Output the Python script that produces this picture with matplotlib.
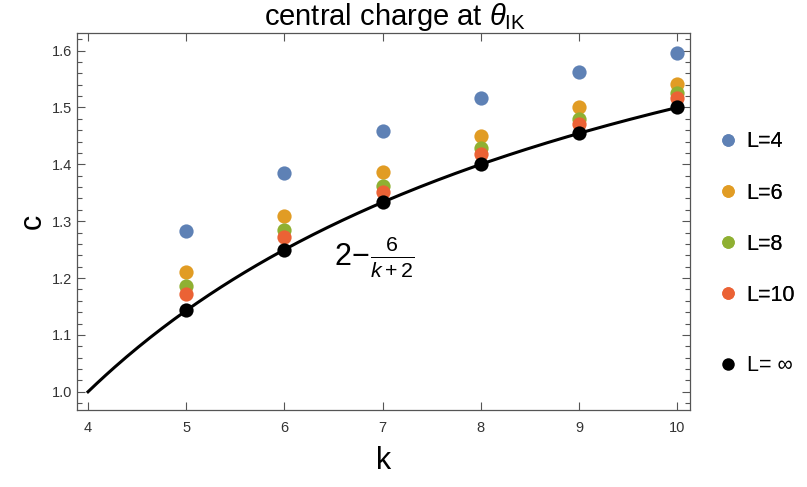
import matplotlib
matplotlib.use('Agg')
import matplotlib.pyplot as plt
import numpy as np
from matplotlib.ticker import MultipleLocator
from matplotlib.lines import Line2D

#data
kValues = [5, 6, 7, 8, 9, 10]
cL4 = [1.283, 1.385, 1.458, 1.516, 1.562, 1.596]
cL6 = [1.211, 1.310, 1.386, 1.450, 1.500, 1.542]
cL8 = [1.186, 1.284, 1.362, 1.428, 1.480, 1.525]
cL10 = [1.172, 1.273, 1.352, 1.418, 1.471, 1.516]
cLinf = [1.143, 1.250, 1.333, 1.400, 1.455, 1.500]
seriesLabels = ['L=4', 'L=6', 'L=8', 'L=10', 'L= \u221e']
seriesColors = ['#5E81B5', '#E19C24', '#8FB032', '#EB6235', '#000000']

plt.rcParams['font.family'] = ['Liberation Sans', 'DejaVu Sans']
plt.rcParams['mathtext.fontset'] = 'custom'
plt.rcParams['mathtext.rm'] = 'Liberation Sans'
plt.rcParams['mathtext.it'] = 'Liberation Sans:italic'

fig = plt.figure(figsize=(8.07, 4.87), dpi=100)
ax = fig.add_axes([77/807, 1 - 410/487, (690-77)/807, (410-33)/487])

#analytic curve 2 - 6/(k+2)
kLine = np.linspace(4, 10, 200)
ax.plot(kLine, 2 - 6/(kLine + 2), color='black', lw=2.2, zorder=2)

allSeries = [cL4, cL6, cL8, cL10, cLinf]
for i in range(len(allSeries)):
    ax.scatter(kValues, allSeries[i], s=105, color=seriesColors[i], zorder=3 + i, linewidths=0)

#formula label next to the curve
ax.text(6.50, 1.236, r'$2\!-\!\frac{6}{k+2}$', fontsize=22, ha='left', va='center')

ax.set_xlim(3.888, 10.13)
ax.set_ylim(0.968, 1.631)
ax.xaxis.set_major_locator(MultipleLocator(1))
ax.yaxis.set_major_locator(MultipleLocator(0.1))
ax.yaxis.set_minor_locator(MultipleLocator(0.02))
ax.yaxis.set_major_formatter(matplotlib.ticker.FormatStrFormatter('%.1f'))
ax.tick_params(axis='both', which='both', direction='in', top=True, right=True,
               labelsize=10.5, labelcolor='#333333', color='#555555', width=0.8)
ax.tick_params(axis='both', which='major', length=6)
ax.tick_params(axis='y', which='minor', length=3.5)
ax.tick_params(axis='x', pad=8)
for sp in ax.spines.values():
    sp.set_color('#555555')
    sp.set_linewidth(0.9)

ax.set_title(r'central charge at $\theta_{\rm IK}$', fontsize=21, pad=2, x=0.519)
ax.set_xlabel('k', fontsize=22, labelpad=8)
ax.set_ylabel('c', fontsize=22, labelpad=3, rotation=90)

#legend in two pieces so L=inf sits a bit lower
handles = []
for i in range(5):
    handles.append(Line2D([], [], marker='o', ls='', color=seriesColors[i], markersize=9, markeredgewidth=0))
leg1 = fig.legend(handles[:4], seriesLabels[:4], loc='upper left', bbox_to_anchor=(697/807, 1 - 112/487),
                  frameon=False, fontsize=15.5, labelspacing=1.4, handletextpad=0.3, handlelength=1.1)
leg2 = fig.legend(handles[4:], seriesLabels[4:], loc='upper left', bbox_to_anchor=(697/807, 1 - 336/487),
                  frameon=False, fontsize=15.5, handletextpad=0.3, handlelength=1.1)
fig.add_artist(leg1)

fig.savefig('out.png', dpi=100)
